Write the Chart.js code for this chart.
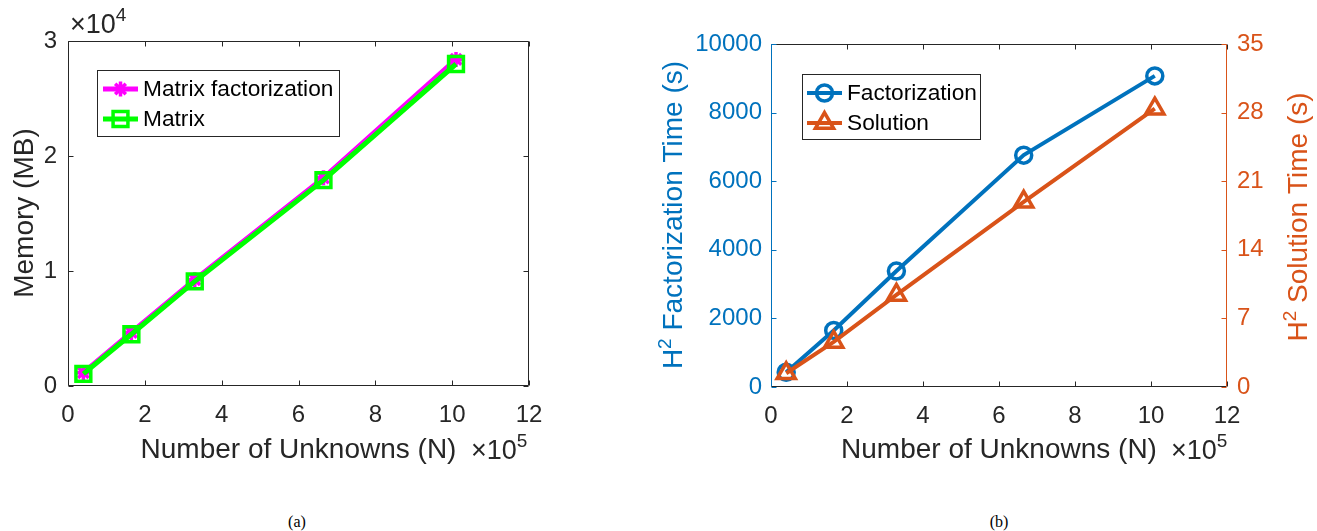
<!DOCTYPE html>
<html>
<head>
<meta charset="utf-8">
<script src="https://cdn.jsdelivr.net/npm/chart.js@4.4.1/dist/chart.umd.min.js"></script>
<style>
  body { margin: 0; background: #fff; width: 1317px; height: 531px; position: relative; overflow: hidden; }
  .panel { position: absolute; top: 0; }
  .cap { position: absolute; top: 513px; font: 16px "Liberation Serif", "Times New Roman", serif; color: #000; transform: translateX(-50%); }
</style>
</head>
<body>
<div class="panel" style="left:0"><canvas id="memChart" width="640" height="480"></canvas></div>
<div class="panel" style="left:640px"><canvas id="timeChart" width="677" height="480"></canvas></div>
<div class="cap" style="left:297px">(a)</div>
<div class="cap" style="left:999px">(b)</div>

<script>
// data
const unknowns = [40000, 165000, 330000, 665000, 1010000]
const memFactorization = [1150, 4650, 9250, 18100, 28400]
const memMatrix = [1050, 4500, 9100, 17900, 28000]
const factorTime = [430, 1650, 3380, 6760, 9070]
const solveTime = [1.4, 4.6, 9.4, 18.9, 28.4]

const xTickLabels = ['0', '2', '4', '6', '8', '10', '12']
const memTickLabels = ['0', '1', '2', '3']
const factorTickLabels = ['0', '2000', '4000', '6000', '8000', '10000']
const solveTickLabels = ['0', '7', '14', '21', '28', '35']

const FONT = '"Liberation Sans", Arial, Helvetica, sans-serif'
const GRAY = '#262626'
const BLUE = '#0072BD'
const ORANGE = '#D95319'

Chart.defaults.font.family = FONT
Chart.defaults.color = GRAY

const pts = (ys) => unknowns.map((x, i) => ({ x: x, y: ys[i] }))

function hline(ctx, x1, y1, x2, y2) {
    ctx.beginPath()
    ctx.moveTo(x1, y1)
    ctx.lineTo(x2, y2)
    ctx.stroke()
}

// text with a superscript piece, e.g. H^2 or x10^4
function drawSup(ctx, parts, x, y, align) {
    let w = 0
    parts.forEach(p => {
        ctx.font = p.size + 'px ' + FONT
        p.w = ctx.measureText(p.text).width
        w += p.w
    })
    let cx = align === 'center' ? x - w / 2 : x
    ctx.textAlign = 'left'
    ctx.textBaseline = 'alphabetic'
    parts.forEach(p => {
        ctx.font = p.size + 'px ' + FONT
        ctx.fillText(p.text, cx, y - (p.rise || 0))
        cx += p.w
    })
}

function drawVTitle(ctx, parts, cx, cy, color) {
    ctx.save()
    ctx.fillStyle = color
    ctx.translate(cx, cy)
    ctx.rotate(-Math.PI / 2)
    drawSup(ctx, parts, 0, 9.5, 'center')
    ctx.restore()
}

// MATLAB style box with inward ticks
function axesBox(leftId, rightId, leftColor, rightColor) {
    return {
        id: 'axesBox',
        beforeDatasetsDraw(chart) {
            const { ctx, chartArea: a, scales } = chart
            const L = Math.round(a.left) + 0.5, R = Math.round(a.right) - 0.5
            const T = Math.round(a.top) + 0.5, B = Math.round(a.bottom) - 0.5
            const len = 5
            ctx.save()
            ctx.lineWidth = 1

            ctx.strokeStyle = GRAY
            hline(ctx, L, T, R, T)
            hline(ctx, L, B, R, B)
            scales.x.ticks.forEach(t => {
                const px = Math.round(scales.x.getPixelForValue(t.value)) + 0.5
                hline(ctx, px, B, px, B - len)
                hline(ctx, px, T, px, T + len)
            })

            ctx.strokeStyle = leftColor
            hline(ctx, L, T, L, B)
            scales[leftId].ticks.forEach(t => {
                const py = Math.round(scales[leftId].getPixelForValue(t.value)) + 0.5
                hline(ctx, L, py, L + len, py)
            })

            ctx.strokeStyle = rightColor
            hline(ctx, R, T, R, B)
            scales[rightId].ticks.forEach(t => {
                const py = Math.round(scales[rightId].getPixelForValue(t.value)) + 0.5
                hline(ctx, R, py, R - len, py)
            })
            ctx.restore()
        }
    }
}

// legend inside the axes
function boxLegend(box, rows, lineX) {
    return {
        id: 'boxLegend',
        afterDraw(chart) {
            const ctx = chart.ctx
            ctx.save()
            ctx.fillStyle = '#fff'
            ctx.fillRect(box.x, box.y, box.w, box.h)
            ctx.strokeStyle = GRAY
            ctx.lineWidth = 1
            ctx.strokeRect(Math.round(box.x) + 0.5, Math.round(box.y) + 0.5, box.w, box.h)
            chart.data.datasets.forEach((ds, i) => {
                const y = rows[i]
                ctx.strokeStyle = ds.borderColor
                ctx.lineWidth = ds.borderWidth
                hline(ctx, lineX[0], y, lineX[1], y)
                ctx.lineWidth = ds.pointBorderWidth
                ctx.fillStyle = 'rgba(0,0,0,0)'
                Chart.helpers.drawPoint(ctx, {
                    pointStyle: ds.pointStyle, radius: ds.pointRadius,
                    rotation: 0, borderWidth: ds.pointBorderWidth
                }, (lineX[0] + lineX[1]) / 2, y)
                ctx.fillStyle = '#000'
                ctx.font = '22.7px ' + FONT
                ctx.textAlign = 'left'
                ctx.textBaseline = 'middle'
                ctx.fillText(ds.label, lineX[1] + 5, y + 1)
            })
            ctx.restore()
        }
    }
}

const memLabels = {
    id: 'memLabels',
    afterDraw(chart) {
        const ctx = chart.ctx
        ctx.save()
        ctx.fillStyle = GRAY
        drawSup(ctx, [{ text: '×10', size: 27 }, { text: '4', size: 19, rise: 12 }], 70, 33, 'left')
        drawSup(ctx, [{ text: '×10', size: 27 }, { text: '5', size: 19, rise: 12 }], 471, 459, 'left')
        drawVTitle(ctx, [{ text: 'Memory (MB)', size: 28 }], 23, 213, GRAY)
        ctx.restore()
    }
}

const timeLabels = {
    id: 'timeLabels',
    afterDraw(chart) {
        const ctx = chart.ctx
        ctx.save()
        ctx.fillStyle = GRAY
        drawSup(ctx, [{ text: '×10', size: 27 }, { text: '5', size: 19, rise: 12 }], 531, 459, 'left')
        drawVTitle(ctx, [{ text: 'H', size: 28 }, { text: '2', size: 19, rise: 11 }, { text: ' Factorization Time (s)', size: 28 }], 32, 215, BLUE)
        drawVTitle(ctx, [{ text: 'H', size: 28 }, { text: '2', size: 19, rise: 11 }, { text: ' Solution Time (s)', size: 28 }], 657, 217, ORANGE)
        ctx.restore()
    }
}

const xAxis = (h) => ({
    type: 'linear',
    min: 0,
    max: 1200000,
    grid: { display: false, drawTicks: false },
    border: { display: false },
    ticks: {
        stepSize: 200000,
        padding: 15,
        color: GRAY,
        font: { size: 24 },
        maxRotation: 0,
        callback: (v, i) => xTickLabels[i]
    },
    title: {
        display: true,
        text: 'Number of Unknowns (N)',
        color: GRAY,
        font: { size: 28 },
        padding: { top: 0, bottom: 13 }
    },
    afterFit: (s) => { s.height = h }
})

new Chart(document.getElementById('memChart'), {
    type: 'line',
    data: {
        datasets: [
            {
                label: 'Matrix factorization',
                data: pts(memFactorization),
                borderColor: '#FF00FF',
                borderWidth: 5,
                pointStyle: 'star',
                pointRadius: 7.5,
                pointBorderWidth: 3.5,
                pointBorderColor: '#FF00FF',
                pointBackgroundColor: 'rgba(0,0,0,0)',
                order: 1
            },
            {
                label: 'Matrix',
                data: pts(memMatrix),
                borderColor: '#00FF00',
                borderWidth: 5,
                pointStyle: 'rect',
                pointRadius: 10.5,
                pointBorderWidth: 3.5,
                pointBorderColor: '#00FF00',
                pointBackgroundColor: 'rgba(0,0,0,0)',
                order: 0
            }
        ]
    },
    options: {
        responsive: false,
        animation: false,
        layout: { padding: { top: 41, right: 111, left: 0, bottom: 0 } },
        plugins: { legend: { display: false }, tooltip: { enabled: false } },
        scales: {
            x: xAxis(94),
            y: {
                type: 'linear',
                min: 0,
                max: 30000,
                grid: { display: false, drawTicks: false },
                border: { display: false },
                ticks: {
                    stepSize: 10000,
                    padding: 11,
                    color: GRAY,
                    font: { size: 24 },
                    callback: (v, i) => memTickLabels[i]
                },
                afterFit: (s) => { s.width = 68 }
            }
        }
    },
    plugins: [
        axesBox('y', 'y', GRAY, GRAY),
        boxLegend({ x: 97, y: 70, w: 242, h: 66 }, [89, 119], [103, 138]),
        memLabels
    ]
})

new Chart(document.getElementById('timeChart'), {
    type: 'line',
    data: {
        datasets: [
            {
                label: 'Factorization',
                data: pts(factorTime),
                yAxisID: 'y',
                borderColor: BLUE,
                borderWidth: 4,
                pointStyle: 'circle',
                pointRadius: 8,
                pointBorderWidth: 3.5,
                pointBorderColor: BLUE,
                pointBackgroundColor: 'rgba(0,0,0,0)',
                order: 1
            },
            {
                label: 'Solution',
                data: pts(solveTime),
                yAxisID: 'y2',
                borderColor: ORANGE,
                borderWidth: 4,
                pointStyle: 'triangle',
                pointRadius: 10.5,
                pointBorderWidth: 3.5,
                pointBorderColor: ORANGE,
                pointBackgroundColor: 'rgba(0,0,0,0)',
                order: 0
            }
        ]
    },
    options: {
        responsive: false,
        animation: false,
        layout: { padding: { top: 44, right: 0, left: 0, bottom: 0 } },
        plugins: { legend: { display: false }, tooltip: { enabled: false } },
        scales: {
            x: xAxis(93),
            y: {
                type: 'linear',
                position: 'left',
                min: 0,
                max: 10000,
                grid: { display: false, drawTicks: false },
                border: { display: false },
                ticks: {
                    stepSize: 2000, padding: 9, color: BLUE, font: { size: 24 },
                    callback: (v, i) => factorTickLabels[i]
                },
                afterFit: (s) => { s.width = 131 }
            },
            y2: {
                type: 'linear',
                position: 'right',
                min: 0,
                max: 35,
                grid: { display: false, drawTicks: false },
                border: { display: false },
                ticks: {
                    stepSize: 7, padding: 10, color: ORANGE, font: { size: 24 },
                    callback: (v, i) => solveTickLabels[i]
                },
                afterFit: (s) => { s.width = 90 }
            }
        }
    },
    plugins: [
        axesBox('y', 'y2', BLUE, ORANGE),
        boxLegend({ x: 162, y: 74, w: 178, h: 65 }, [93, 123], [167, 202]),
        timeLabels
    ]
})
</script>
</body>
</html>
